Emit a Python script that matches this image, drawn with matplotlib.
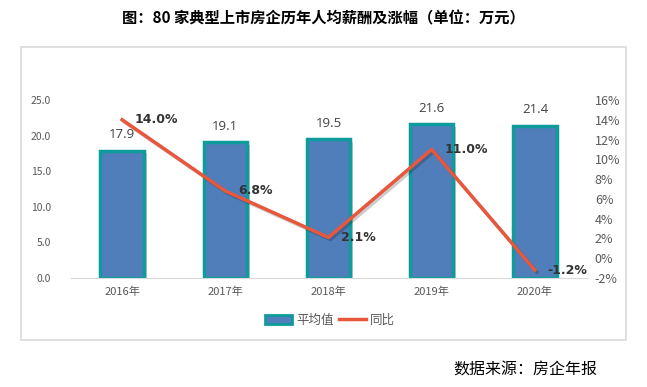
import matplotlib.pyplot as plt
import matplotlib.patheffects as pe
from matplotlib.patches import Rectangle
from matplotlib.lines import Line2D
from matplotlib.ticker import FuncFormatter

plt.rcParams['font.family'] = ['Noto Sans CJK SC', 'DejaVu Sans']

years = ['2016年', '2017年', '2018年', '2019年', '2020年']
avg_pay = [17.9, 19.1, 19.5, 21.6, 21.4]
yoy = [14.0, 6.8, 2.1, 11.0, -1.2]

bar_color = '#4F7EBB'
edge_color = '#0E9B9B'
line_color = '#E8573C'
text_color = '#595959'

fig = plt.figure(figsize=(6.47, 3.87), dpi=100)

# light grey frame round the chart
fig.patches.append(Rectangle((21 / 647, 1 - 340 / 387), 605 / 647, 293 / 387,
                             transform=fig.transFigure, fill=False,
                             edgecolor='#D9D9D9', linewidth=1.2))

ax = fig.add_axes([70.5 / 647, 1 - 278 / 387, 516 / 647, 178 / 387])
x = range(len(years))

bars = ax.bar(x, avg_pay, width=0.42, color=bar_color, edgecolor=edge_color,
              linewidth=2.5, zorder=2)
for b in bars:
    b.set_path_effects([pe.SimplePatchShadow(offset=(2, -2), alpha=0.25), pe.Normal()])

for i, v in enumerate(avg_pay):
    ax.text(i, v + 1.3, f'{v:.1f}', ha='center', va='bottom', fontsize=9.5,
            color='#404040', family=['Open Sans', 'DejaVu Sans'])

ax.set_xlim(-0.5, len(years) - 0.5)
ax.set_ylim(0, 25)
ax.set_yticks([0, 5, 10, 15, 20, 25])
ax.yaxis.set_major_formatter(FuncFormatter(lambda v, p: f'{v:.1f}'))
ax.set_xticks(list(x))
ax.set_xticklabels(years)
ax.tick_params(axis='y', length=0, labelsize=7.5, labelcolor=text_color, pad=14)
ax.tick_params(axis='x', length=0, labelsize=8, labelcolor=text_color, pad=6)
for s in ['top', 'left', 'right']:
    ax.spines[s].set_visible(False)
ax.spines['bottom'].set_color('#D9D9D9')

ax2 = ax.twinx()
ax2.plot(x, yoy, color=line_color, linewidth=2.5, zorder=3,
         path_effects=[pe.SimpleLineShadow(offset=(1.5, -1.5), alpha=0.2), pe.Normal()])
for i, v in enumerate(yoy):
    ax2.annotate(f'{v:.1f}%', (i, v), xytext=(9, 0), textcoords='offset points',
                 ha='left', va='center', fontsize=9, fontweight='bold',
                 color='#333333', family=['DejaVu Sans'])
ax2.set_ylim(-2, 16)
ax2.set_yticks(range(-2, 17, 2))
ax2.yaxis.set_major_formatter(FuncFormatter(lambda v, p: f'{v:.0f}%'))
ax2.tick_params(axis='y', length=0, labelsize=9, labelcolor=text_color, pad=6)
for s in ['top', 'left', 'right', 'bottom']:
    ax2.spines[s].set_visible(False)

handles = [Rectangle((0, 0), 1, 1, facecolor=bar_color, edgecolor=edge_color, linewidth=2),
           Line2D([0], [0], color=line_color, linewidth=2.5)]
fig.legend(handles, ['平均值', '同比'], loc='center', bbox_to_anchor=(330 / 647, 1 - 320 / 387),
           ncol=2, frameon=False, fontsize=9, labelcolor=text_color,
           handlelength=2.2, handletextpad=0.3, columnspacing=0.4)

fig.text(323 / 647, 1 - 18 / 387, '图：80 家典型上市房企历年人均薪酬及涨幅（单位：万元）',
         ha='center', va='center', fontsize=11, fontweight='bold', color='black')
fig.text(597 / 647, 1 - 370 / 387, '数据来源：房企年报', ha='right', va='center',
         fontsize=11.5, color='black')

fig.savefig('out.png', dpi=100)
